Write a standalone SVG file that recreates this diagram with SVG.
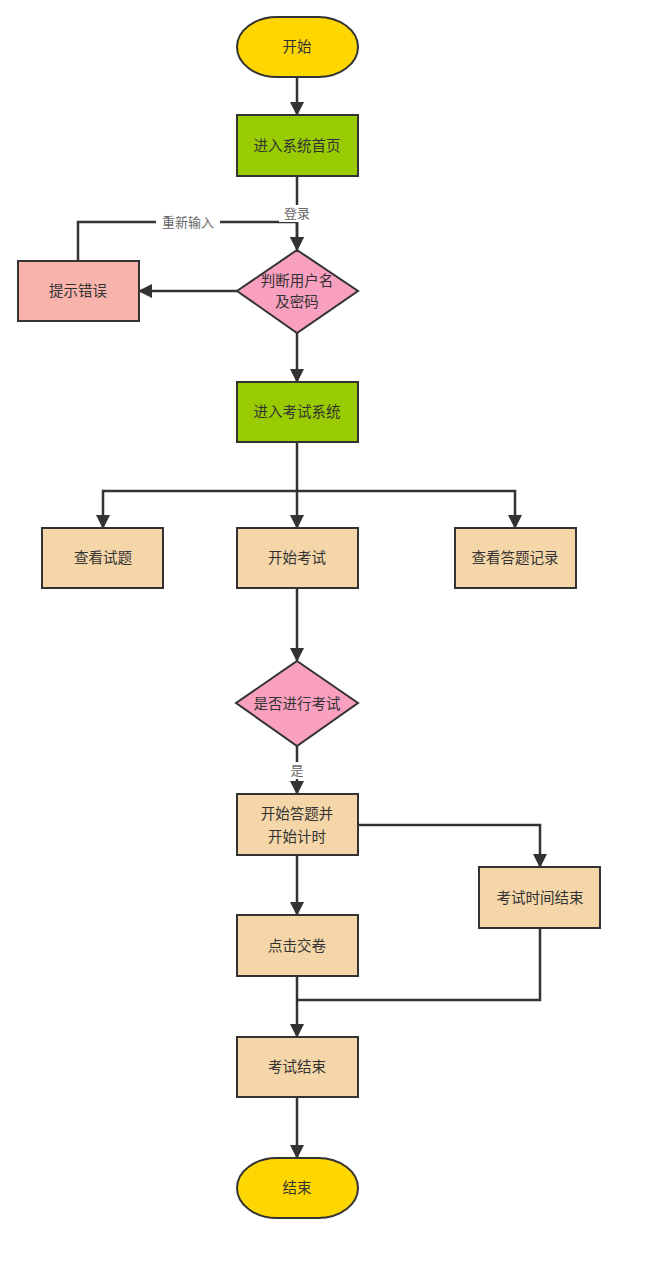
<svg xmlns="http://www.w3.org/2000/svg" width="660" height="1278" viewBox="0 0 660 1278">
<style>
.n{stroke:#333;stroke-width:2}
.t{font-family:"Liberation Sans","Noto Sans CJK SC",sans-serif;font-size:14.5px;fill:#333;text-anchor:middle;dominant-baseline:central}
.l{font-family:"Liberation Sans","Noto Sans CJK SC",sans-serif;font-size:13px;fill:#666;text-anchor:middle;dominant-baseline:central}
.c{fill:none;stroke:#333;stroke-width:2.5}
.y{fill:#ffd700}.g{fill:#99cc00}.p{fill:#f99fbf}.r{fill:#f8b4ac}.b{fill:#f5d6a9}
</style>
<defs>
<marker id="a" markerWidth="14" markerHeight="14" refX="12" refY="7" orient="auto" markerUnits="userSpaceOnUse">
<path d="M0,0 L14,7 L0,14 Z" fill="#333"/>
</marker>
</defs>
<rect width="660" height="1278" fill="#fff"/>
<g id="connectors">
<path class="c" d="M297,77 V114" marker-end="url(#a)"/>
<path class="c" d="M297,176 V249" marker-end="url(#a)"/>
<path class="c" d="M237,291 H140" marker-end="url(#a)"/>
<path class="c" d="M78,261 V222 H297 V249" marker-end="url(#a)"/>
<path class="c" d="M297,333 V381" marker-end="url(#a)"/>
<path class="c" d="M297,442 V527" marker-end="url(#a)"/>
<path class="c" d="M297,491 H103 V527" marker-end="url(#a)"/>
<path class="c" d="M297,491 H515 V527" marker-end="url(#a)"/>
<path class="c" d="M297,588 V660" marker-end="url(#a)"/>
<path class="c" d="M297,746 V793" marker-end="url(#a)"/>
<path class="c" d="M297,855 V914" marker-end="url(#a)"/>
<path class="c" d="M358,825 H540 V866" marker-end="url(#a)"/>
<path class="c" d="M540,928 V1000 H297"/>
<path class="c" d="M297,976 V1036" marker-end="url(#a)"/>
<path class="c" d="M297,1097 V1157" marker-end="url(#a)"/>
<rect x="279" y="205" width="36" height="17" fill="#fff"/>
<text class="l" x="297" y="213">登录</text>
<rect x="156" y="214" width="64" height="17" fill="#fff"/>
<text class="l" x="188" y="222">重新输入</text>
<rect x="287" y="762" width="20" height="17" fill="#fff"/>
<text class="l" x="297" y="770">是</text>
</g>
<g id="start"><rect class="n y" x="237" y="17" width="121" height="60" rx="40" ry="30"/><text class="t" x="297" y="47">开始</text></g>
<g id="home"><rect class="n g" x="237" y="115" width="121" height="61"/><text class="t" x="297" y="146">进入系统首页</text></g>
<g id="check"><path class="n p" d="M297,250 L358,291 L297,333 L237,291 Z"/><text class="t" x="297" y="281">判断用户名</text><text class="t" x="297" y="302">及密码</text></g>
<g id="error"><rect class="n r" x="18" y="261" width="121" height="60"/><text class="t" x="78" y="291">提示错误</text></g>
<g id="system"><rect class="n g" x="237" y="382" width="121" height="60"/><text class="t" x="297" y="412">进入考试系统</text></g>
<g id="view"><rect class="n b" x="42" y="528" width="121" height="60"/><text class="t" x="103" y="558">查看试题</text></g>
<g id="begin"><rect class="n b" x="237" y="528" width="121" height="60"/><text class="t" x="297" y="558">开始考试</text></g>
<g id="record"><rect class="n b" x="455" y="528" width="121" height="60"/><text class="t" x="515" y="558">查看答题记录</text></g>
<g id="decide"><path class="n p" d="M297,661 L358,703 L297,746 L236,703 Z"/><text class="t" x="297" y="704">是否进行考试</text></g>
<g id="answer"><rect class="n b" x="237" y="794" width="121" height="61"/><text class="t" x="297" y="814">开始答题并</text><text class="t" x="297" y="837">开始计时</text></g>
<g id="submit"><rect class="n b" x="237" y="915" width="121" height="61"/><text class="t" x="297" y="946">点击交卷</text></g>
<g id="timeout"><rect class="n b" x="479" y="867" width="121" height="61"/><text class="t" x="540" y="898">考试时间结束</text></g>
<g id="examend"><rect class="n b" x="237" y="1037" width="121" height="60"/><text class="t" x="297" y="1067">考试结束</text></g>
<g id="end"><rect class="n y" x="237" y="1158" width="121" height="60" rx="40" ry="30"/><text class="t" x="297" y="1188">结束</text></g>
</svg>
